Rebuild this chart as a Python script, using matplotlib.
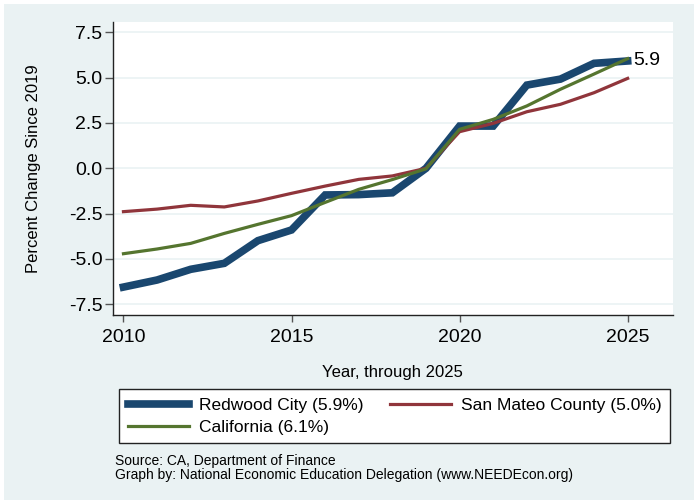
import matplotlib.pyplot as plt
from matplotlib.patches import Rectangle

plt.rcParams['font.family'] = ['Liberation Sans', 'DejaVu Sans']

# Data: percent change since 2019
years = list(range(2010, 2026))
redwood = [-6.55, -6.16, -5.57, -5.24, -3.99, -3.40, -1.47, -1.45, -1.35, 0.0,
           2.33, 2.33, 4.59, 4.92, 5.79, 5.92]
san_mateo = [-2.39, -2.25, -2.04, -2.13, -1.80, -1.38, -0.98, -0.61, -0.42, 0.0,
             2.02, 2.48, 3.12, 3.53, 4.17, 4.96]
california = [-4.71, -4.45, -4.14, -3.59, -3.09, -2.61, -1.88, -1.16, -0.62, -0.03,
              2.15, 2.70, 3.44, 4.36, 5.20, 6.05]
yticks = [-7.5, -5.0, -2.5, 0.0, 2.5, 5.0, 7.5]
xticks = [2010, 2015, 2020, 2025]

bg = '#EAF2F3'
navy = '#1A476F'
maroon = '#90353B'
green = '#55752F'

fig = plt.figure(figsize=(6.94, 5.0), dpi=100, facecolor='white')
fig.patches.append(Rectangle((4 / 694, 0), 1, 496 / 500, transform=fig.transFigure,
                             facecolor=bg, edgecolor='none', zorder=-5))

ax = fig.add_axes([112.7 / 694, 185 / 500, 560 / 694, 293 / 500])
ax.set_zorder(1)
ax.set_facecolor('white')

l1, = ax.plot(years, redwood, color=navy, lw=5.5, solid_joinstyle='miter', zorder=3)
l2, = ax.plot(years, san_mateo, color=maroon, lw=2.3, zorder=4)
l3, = ax.plot(years, california, color=green, lw=2.3, zorder=5)

ax.annotate('5.9', (years[-1], redwood[-1]), xytext=(4, 0), textcoords='offset points',
            fontsize=14, va='center', ha='left')

ax.set_xlim(2009.68, 2026.34)
ax.set_ylim(-8.09, 8.07)
ax.set_xticks(xticks)
ax.set_yticks(yticks)
ax.set_yticklabels([f'{v:.1f}' for v in yticks])
ax.grid(axis='y', color=bg, lw=1.2)
ax.set_axisbelow(True)

for s in ['top', 'right']:
    ax.spines[s].set_visible(False)
for s in ['left', 'bottom']:
    ax.spines[s].set_color('#222222')
    ax.spines[s].set_linewidth(1.0)
ax.tick_params(axis='both', labelsize=14, color='#555555', width=1)
ax.tick_params(axis='y', length=6, pad=1.5)
ax.tick_params(axis='x', length=5, pad=5)

ax.set_ylabel('Percent Change Since 2019', fontsize=12)
ax.yaxis.set_label_coords(-0.128, 0.5)
ax.set_xlabel('Year, through 2025', fontsize=12, labelpad=14)

# column-major fill -> row 1: Redwood, San Mateo; row 2: California
leg = fig.legend([l1, l3, l2],
                 ['Redwood City (5.9%)', 'California (6.1%)', 'San Mateo County (5.0%)'],
                 loc='upper left', bbox_to_anchor=(119 / 694, 1 - 389 / 500),
                 ncol=2, fontsize=12.5, frameon=True, fancybox=False, framealpha=1,
                 handlelength=3.55, columnspacing=1.5, borderpad=0.5,
                 labelspacing=0.38, handletextpad=0.56, borderaxespad=0)
leg.get_frame().set_edgecolor('#222222')
leg.get_frame().set_facecolor('white')
leg.get_frame().set_linewidth(1.0)

fig.text(115 / 694, 1 - 461 / 500, 'Source: CA, Department of Finance',
         fontsize=10, va='center', ha='left')
fig.text(115 / 694, 1 - 475 / 500,
         'Graph by: National Economic Education Delegation (www.NEEDEcon.org)',
         fontsize=10, va='center', ha='left')

fig.savefig('out.png', dpi=100, facecolor='white')
